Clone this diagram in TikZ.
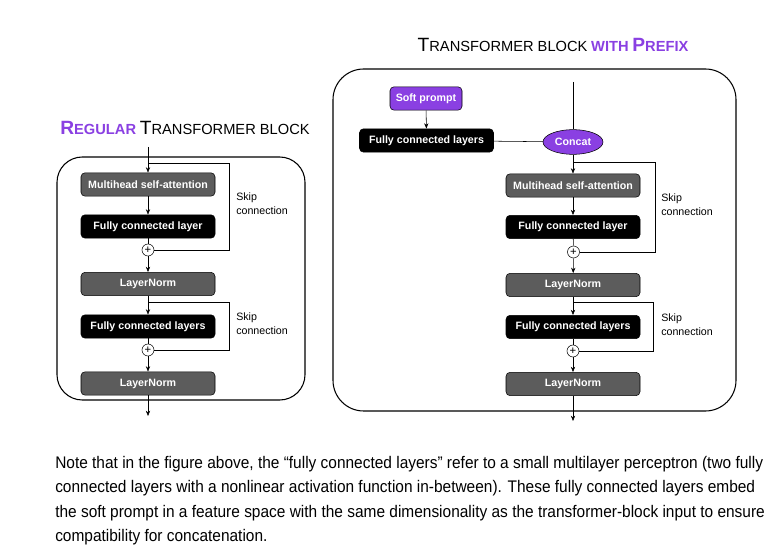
\documentclass[tikz,border=0pt]{standalone}
\usepackage{fontspec}
\setmainfont{Liberation Sans}
\newfontfamily\notefont[FakeStretch=0.92]{Liberation Sans}
\usetikzlibrary{shapes.geometric,arrows.meta}
\definecolor{prefixpurple}{RGB}{138,64,226}
\definecolor{normgray}{RGB}{92,92,92}
% fake small caps: first letter big, rest small
\newcommand{\capsword}[2]{{\fontsize{14.4}{16}\selectfont #1}{\fontsize{11}{13}\selectfont #2}}
\begin{document}
\begin{tikzpicture}[x=0.75pt,y=-0.75pt,>={Stealth[length=4pt,width=3.2pt]},
    layer/.style={draw=black,rounded corners=3pt,minimum width=100.5pt,minimum height=17.5pt,
        inner sep=0pt,text=white,font=\fontsize{8}{9}\selectfont\bfseries},
    graylayer/.style={layer,fill=normgray},
    blacklayer/.style={layer,fill=black},
    plusnode/.style={circle,draw,fill=white,minimum size=9pt,inner sep=0pt,font=\fontsize{8.5}{8.5}\selectfont},
    skiplabel/.style={anchor=north west,align=left,inner sep=0pt,font=\fontsize{8}{10}\selectfont},
    blockframe/.style={line width=0.8pt}]
    \useasboundingbox (0,0) rectangle (781,548);
    %===========================================
    % regular transformer block
    \node (ltitle) at (185,128) {\color{prefixpurple}\bfseries\capsword{R}{EGULAR} \color{black}\mdseries\capsword{T}{RANSFORMER BLOCK}};
    \draw[blockframe,rounded corners=19pt] (57,157) rectangle (305,400);
    \coordinate (lin) at (148,147);
    \coordinate (lout) at (148,416);
    \coordinate (lsk1) at (148,163);
    \coordinate (lsk2) at (148,302);
    \node[graylayer] (lmha) at (148,184.5) {Multihead self-attention};
    \node[blacklayer] (lfc1) at (148,226.5) {Fully connected layer};
    \node[plusnode] (lplus1) at (148,250) {+};
    \node[graylayer] (lln1) at (148,284) {LayerNorm};
    \node[blacklayer] (lfc2) at (148,326.5) {Fully connected layers};
    \node[plusnode] (lplus2) at (148,350) {+};
    \node[graylayer] (lln2) at (148,383.5) {LayerNorm};
    \draw[->] (lin) -- (lmha);
    \draw[->] (lmha) -- (lfc1);
    \draw (lfc1) -- (lplus1);
    \draw[->] (lplus1) -- (lln1);
    \draw[->] (lln1) -- (lfc2);
    \draw (lfc2) -- (lplus2);
    \draw[->] (lplus2) -- (lln2);
    \draw[->] (lln2) -- (lout);
    \draw (lsk1) -- ++(81,0) |- (lplus1);
    \draw (lsk2) -- ++(81,0) |- (lplus2);
    \node[skiplabel] (lskl1) at (236,193) {Skip\\connection};
    \node[skiplabel] (lskl2) at (236,313) {Skip\\connection};
    %===========================================
    % transformer block with prefix
    \node (rtitle) at (553,45) {\capsword{T}{RANSFORMER BLOCK} \color{prefixpurple}\bfseries\capsword{}{WITH} \capsword{P}{REFIX}};
    \draw[blockframe,rounded corners=23pt] (333,69) rectangle (736,411);
    \coordinate (rin) at (573,82);
    \coordinate (rout) at (573,421);
    \coordinate (rsk1) at (573,162);
    \coordinate (rsk2) at (573,302);
    \node[layer,fill=prefixpurple,minimum width=54pt] (soft) at (426,98.5) {Soft prompt};
    \node[blacklayer] (pfc) at (426.5,140.5) {Fully connected layers};
    \node[ellipse,draw,fill=prefixpurple,minimum width=45pt,minimum height=18.5pt,inner sep=0pt,
        text=white,font=\fontsize{8}{9}\selectfont\bfseries] (concat) at (573,142) {Concat};
    \node[graylayer] (rmha) at (573,185.5) {Multihead self-attention};
    \node[blacklayer] (rfc1) at (573,227) {Fully connected layer};
    \node[plusnode] (rplus1) at (573.5,252) {+};
    \node[graylayer] (rln1) at (573,285) {LayerNorm};
    \node[blacklayer] (rfc2) at (573,327) {Fully connected layers};
    \node[plusnode] (rplus2) at (573,351) {+};
    \node[graylayer] (rln2) at (573,384) {LayerNorm};
    \draw[->] (soft) -- (pfc);
    \draw (pfc) -- (concat);
    \draw (rin) -- (concat);
    \draw[->] (concat) -- (rmha);
    \draw[->] (rmha) -- (rfc1);
    \draw (rfc1) -- (rplus1);
    \draw[->] (rplus1) -- (rln1);
    \draw[->] (rln1) -- (rfc2);
    \draw (rfc2) -- (rplus2);
    \draw[->] (rplus2) -- (rln2);
    \draw[->] (rln2) -- (rout);
    \draw (rsk1) -- ++(82,0) |- (rplus1);
    \draw (rsk2) -- ++(80,0) |- (rplus2);
    \node[skiplabel] (rskl1) at (661,194) {Skip\\connection};
    \node[skiplabel] (rskl2) at (661,314) {Skip\\connection};
    %===========================================
    % note below the figure
    \foreach \y/\txt in {468/{Note that in the figure above, the “fully connected layers” refer to a small multilayer perceptron (two fully},
        492.5/{connected layers with a nonlinear activation function in-between). These fully connected layers embed},
        517/{the soft prompt in a feature space with the same dimensionality as the transformer-block input to ensure},
        541.5/{compatibility for concatenation.}}
        \node[anchor=base west,inner sep=0pt,font=\notefont\fontsize{12.6}{14}\selectfont] at (55,\y) {\txt};
\end{tikzpicture}
\end{document}
